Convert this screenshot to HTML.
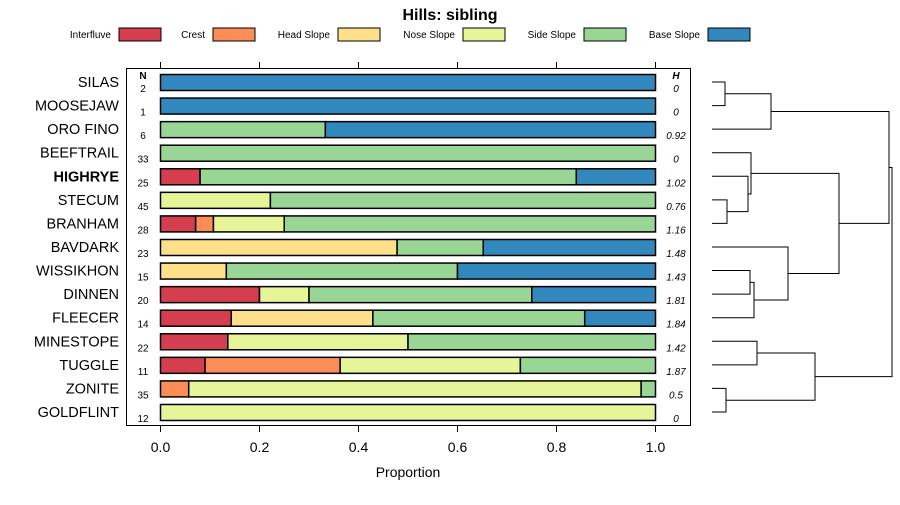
<!DOCTYPE html>
<html><head><meta charset="utf-8"><style>
body{margin:0;background:#fff;}
svg{font-family:"Liberation Sans",sans-serif;}
</style></head><body>
<svg id="c" width="900" height="500" xmlns="http://www.w3.org/2000/svg"></svg>
<script>
const classes=["Interfluve","Crest","Head Slope","Nose Slope","Side Slope","Base Slope"];
const colors=["#D53E4F","#FC8D59","#FEE08B","#E6F598","#99D594","#3288BD"];
const names=["SILAS","MOOSEJAW","ORO FINO","BEEFTRAIL","HIGHRYE","STECUM","BRANHAM","BAVDARK","WISSIKHON","DINNEN","FLEECER","MINESTOPE","TUGGLE","ZONITE","GOLDFLINT"];
const nVals=[2,1,6,33,25,45,28,23,15,20,14,22,11,35,12];
const hVals=["0","0","0.92","0","1.02","0.76","1.16","1.48","1.43","1.81","1.84","1.42","1.87","0.5","0"];
const interfluve=[0,0,0,0,0.08,0,0.071,0,0,0.2,0.143,0.136,0.09,0,0];
const crest=[0,0,0,0,0,0,0.036,0,0,0,0,0,0.273,0.057,0];
const headSlope=[0,0,0,0,0,0,0,0.478,0.133,0,0.286,0,0,0,0];
const noseSlope=[0,0,0,0,0,0.222,0.143,0,0,0.1,0,0.364,0.364,0.914,1];
const sideSlope=[0,0,0.333,1,0.76,0.778,0.75,0.174,0.467,0.45,0.428,0.5,0.273,0.029,0];
const baseSlope=[1,1,0.667,0,0.16,0,0,0.348,0.4,0.25,0.143,0,0,0,0];
const ticks=[0,0.2,0.4,0.6,0.8,1.0];
const merges=[[-1,-2,13],[1,-3,59],[-6,-7,15],[-5,3,36],[-4,4,39],[-9,-10,38],[6,-11,42],[-8,7,76],[5,8,127],[2,9,177],[-12,-13,45],[-14,-15,14],[11,12,103],[10,13,180]];

const svg=document.getElementById('c');
const NS="http://www.w3.org/2000/svg";
function mk(t,a,p){const e=document.createElementNS(NS,t);for(const k in a)e.setAttribute(k,a[k]);(p||svg).appendChild(e);return e;}
const x=v=>160.5+v*495;
const y=i=>82+i*23.57;
const dx=h=>712+h;

let t=mk('text',{x:450,y:20,'text-anchor':'middle','font-size':16,'font-weight':'bold'});
t.textContent="Hills: sibling";



const legEnd=[111,205,330,455,576,700];
classes.forEach((c,k)=>{
  const g=mk('g',{});
  
  
  const tx=mk('text',{x:legEnd[k],y:38,'text-anchor':'end','font-size':10},g);tx.textContent=c;
  mk('rect',{x:legEnd[k]+8,y:28,width:42,height:13,fill:colors[k],stroke:'#000','stroke-width':1},g);
});

const frame=mk('rect',{x:126.5,y:68.5,width:564,height:357,fill:'none',stroke:'#000','stroke-width':1});



ticks.forEach(v=>{
  mk('line',{x1:x(v),x2:x(v),y1:62,y2:68,stroke:'#000'});
  mk('line',{x1:x(v),x2:x(v),y1:426,y2:432,stroke:'#000'});
  const l=mk('text',{x:x(v),y:452,'text-anchor':'middle','font-size':14});
  l.textContent=v.toFixed(1);
  
  
});
t=mk('text',{x:408,y:477,'text-anchor':'middle','font-size':14});t.textContent="Proportion";



t=mk('text',{x:143,y:79,'text-anchor':'middle','font-size':10,'font-weight':'bold'});t.textContent="N";
t=mk('text',{x:676,y:79,'text-anchor':'middle','font-size':10,'font-weight':'bold','font-style':'italic'});t.textContent="H";

const series=[interfluve,crest,headSlope,noseSlope,sideSlope,baseSlope];
names.forEach((n,i)=>{
  const lab=mk('text',{x:119,y:y(i)+5,'text-anchor':'end','font-size':14.5,'font-weight':n==="HIGHRYE"?'bold':'normal'});
  lab.textContent=n;
  
  
  const nt=mk('text',{x:143,y:y(i)+10,'text-anchor':'middle','font-size':10});nt.textContent=nVals[i];
  
  
  const ht=mk('text',{x:676,y:y(i)+10,'text-anchor':'middle','font-size':10,'font-style':'italic'});ht.textContent=hVals[i];
  
  
  let cum=0;
  series.forEach((s,k)=>{
    if(s[i]>0){
      const r=mk('rect',{x:x(cum),y:y(i)-7.5,width:s[i]*495,height:16,fill:colors[k],stroke:'#000','stroke-width':1.5});
      
      
      cum+=s[i];
    }
  });
});

const pos=[];
function node(id){ if(id<0) return {y:y(-id-1),h:0}; return pos[id-1]; }
merges.forEach(m=>{
  const a=node(m[0]),b=node(m[1]),h=m[2];
  const p=mk('path',{d:`M${dx(a.h)},${a.y}H${dx(h)}V${b.y}H${dx(b.h)}`,fill:'none',stroke:'#000','stroke-width':1});
  
  
  pos.push({y:(a.y+b.y)/2,h:h});
});
</script>
</body></html>
